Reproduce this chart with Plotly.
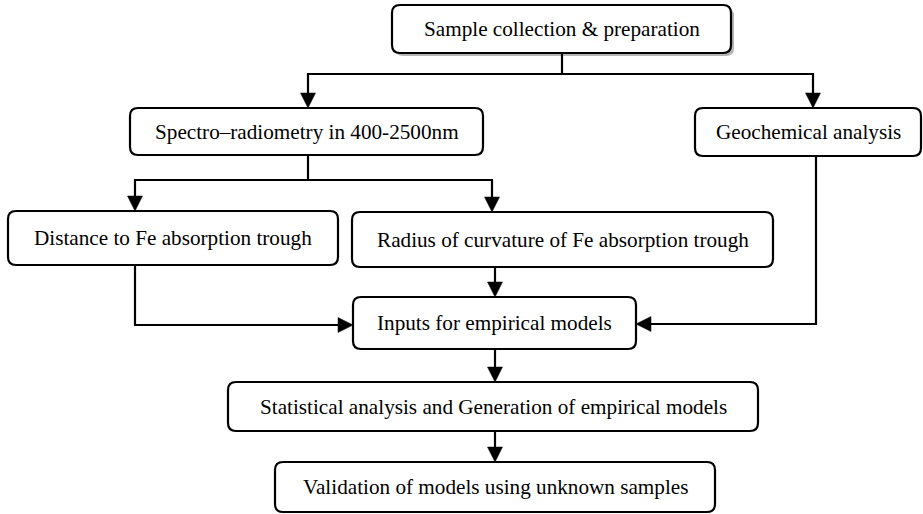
import plotly.graph_objects as go

# ---- content ----
labels = [
    "Sample collection & preparation",
    "Spectro\u2013radiometry in 400-2500nm",
    "Geochemical analysis",
    "Distance to Fe absorption trough",
    "Radius of curvature of Fe absorption trough",
    "Inputs for empirical models",
    "Statistical analysis and Generation of empirical models",
    "Validation of models using unknown samples",
]

# ---- layout (pixel coords: x0, y0, x1, y1) ----
boxes = [
    (392, 5, 731, 53),
    (130, 108, 483, 155),
    (695, 108, 921, 156),
    (8, 211, 338, 265),
    (352, 212, 773, 267),
    (353, 297, 636, 349),
    (228, 382, 758, 431),
    (275, 462, 715, 512),
]

# connector polylines; last point gets arrowhead (direction: 'd','r','l') or None
connectors = [
    ([(562, 53), (562, 74)], None),
    ([(562, 74), (308, 74), (308, 108)], "d"),
    ([(562, 74), (813, 74), (813, 108)], "d"),
    ([(308, 155), (308, 180)], None),
    ([(308, 180), (135, 180), (135, 211)], "d"),
    ([(308, 180), (492, 180), (492, 212)], "d"),
    ([(135, 265), (135, 325), (353, 325)], "r"),
    ([(816, 156), (816, 324), (636, 324)], "l"),
    ([(495, 267), (495, 297)], "d"),
    ([(495, 349), (495, 382)], "d"),
    ([(495, 431), (495, 462)], "d"),
]

W, H = 923, 514
LW = 2.2
AH_LEN, AH_HALF = 15, 7.5


def rounded(x0, y0, x1, y1, r=8):
    return (f"M{x0+r},{y0} L{x1-r},{y0} Q{x1},{y0} {x1},{y0+r} "
            f"L{x1},{y1-r} Q{x1},{y1} {x1-r},{y1} L{x0+r},{y1} "
            f"Q{x0},{y1} {x0},{y1-r} L{x0},{y0+r} Q{x0},{y0} {x0+r},{y0} Z")


shapes = []
annotations = []

# shadow of first box
bx = boxes[0]
shapes.append(dict(type="path", path=rounded(bx[0] + 3, bx[1] + 3, bx[2] + 3, bx[3] + 3),
                   xref="x", yref="y", fillcolor="#b5b5b5", line=dict(width=0), layer="below"))

for (x0, y0, x1, y1), text in zip(boxes, labels):
    shapes.append(dict(type="path", path=rounded(x0, y0, x1, y1), xref="x", yref="y",
                       fillcolor="white", line=dict(color="black", width=LW)))
    annotations.append(dict(x=(x0 + x1) / 2, y=(y0 + y1) / 2, xref="x", yref="y",
                            text=text, showarrow=False,
                            font=dict(family="Liberation Serif", size=21.2, color="black")))

for pts, head in connectors:
    pts = list(pts)
    tip = pts[-1]
    if head == "d":
        pts[-1] = (tip[0], tip[1] - AH_LEN + 1)
    elif head == "r":
        pts[-1] = (tip[0] - AH_LEN + 1, tip[1])
    elif head == "l":
        pts[-1] = (tip[0] + AH_LEN - 1, tip[1])
    p = "M" + " L".join(f"{x},{y}" for x, y in pts)
    shapes.append(dict(type="path", path=p, xref="x", yref="y",
                       line=dict(color="black", width=LW)))
    tx, ty = tip
    if head == "d":
        tri = f"M{tx},{ty} L{tx-AH_HALF},{ty-AH_LEN} L{tx+AH_HALF},{ty-AH_LEN} Z"
    elif head == "r":
        tri = f"M{tx},{ty} L{tx-AH_LEN},{ty-AH_HALF} L{tx-AH_LEN},{ty+AH_HALF} Z"
    elif head == "l":
        tri = f"M{tx},{ty} L{tx+AH_LEN},{ty-AH_HALF} L{tx+AH_LEN},{ty+AH_HALF} Z"
    else:
        tri = None
    if tri:
        shapes.append(dict(type="path", path=tri, xref="x", yref="y",
                           fillcolor="black", line=dict(color="black", width=0.5)))

fig = go.Figure()
fig.update_layout(
    width=W, height=H,
    margin=dict(l=0, r=0, t=0, b=0),
    paper_bgcolor="white", plot_bgcolor="white",
    xaxis=dict(range=[0, W], visible=False, fixedrange=True),
    yaxis=dict(range=[H, 0], visible=False, fixedrange=True),
    shapes=shapes, annotations=annotations, showlegend=False,
)
fig.write_html("out.html", config={"displayModeBar": False},
               post_script="document.body.style.margin='0';document.body.style.overflow='hidden';")
